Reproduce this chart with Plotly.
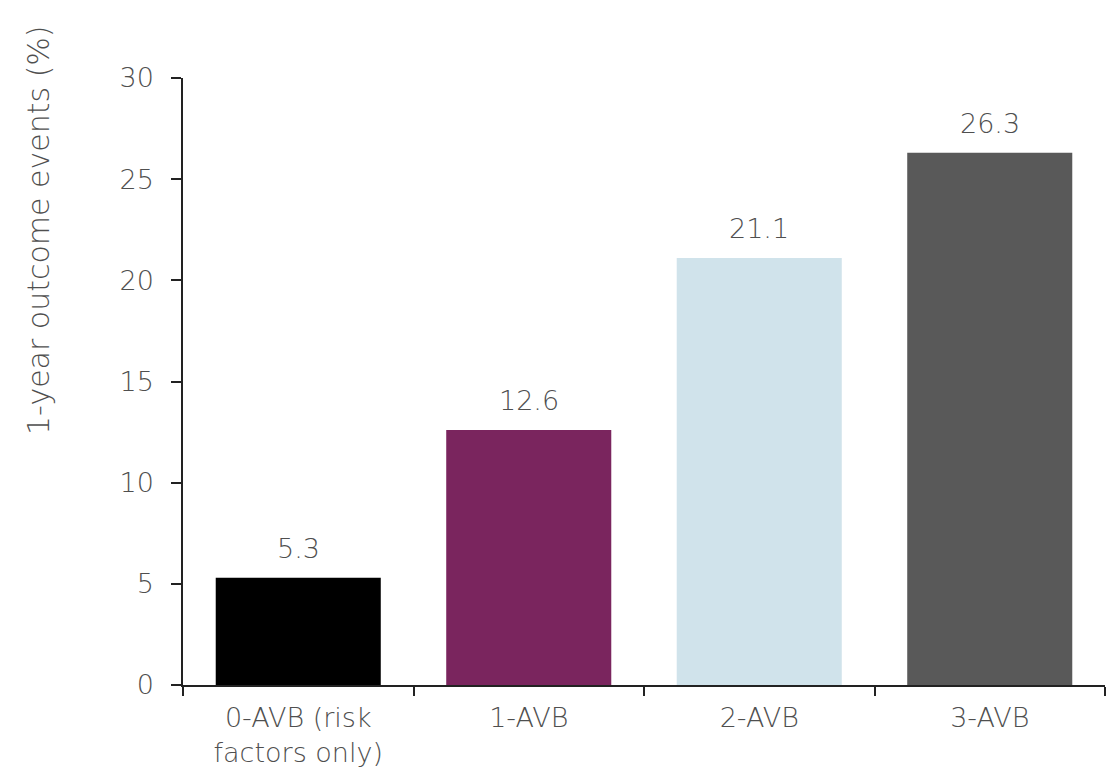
import plotly.graph_objects as go

categories = ["0-AVB (risk<br>factors only)", "1-AVB", "2-AVB", "3-AVB"]
event_rates = [5.3, 12.6, 21.1, 26.3]
bar_colors = ["#000000", "#7A255E", "#D0E3EB", "#595959"]
y_ticks = [0, 5, 10, 15, 20, 25, 30]

FONT = "DejaVu Sans"
GREY = "#4F4F4F"
AXIS = "#222222"
TXT = dict(family=FONT, size=27, color=GREY, weight=300)

W, H = 1120, 780
M_L, M_R, M_T, M_B = 183, 15, 78, 95
plot_w = W - M_L - M_R
plot_h = H - M_T - M_B

fig = go.Figure(
    go.Bar(
        x=categories,
        y=event_rates,
        marker=dict(color=bar_colors, line=dict(width=0)),
        hoverinfo="skip",
    )
)

# value labels sitting a little above each bar
for cat, val in zip(categories, event_rates):
    fig.add_annotation(
        x=cat, y=val, xref="x", yref="y",
        text=f"{val:.1f}", showarrow=False,
        yanchor="bottom", yshift=12,
        font=TXT,
    )

# y-axis title, placed in pixel terms relative to the plot area
fig.add_annotation(
    x=(38 - M_L) / plot_w, y=(H - M_B - 230) / plot_h,
    xref="paper", yref="paper",
    xanchor="center", yanchor="middle",
    text="1-year outcome events (%)", showarrow=False,
    textangle=-90,
    font=dict(family=FONT, size=30, color=GREY, weight=300),
)

fig.update_layout(
    width=W,
    height=H,
    margin=dict(l=M_L, r=M_R, t=M_T, b=M_B),
    paper_bgcolor="white",
    plot_bgcolor="white",
    bargap=0.284,
    showlegend=False,
    font=TXT,
)

fig.update_xaxes(
    type="category",
    tickson="boundaries",
    ticks="outside",
    ticklen=9,
    tickwidth=1.5,
    tickcolor=AXIS,
    showline=True,
    linecolor=AXIS,
    linewidth=1.5,
    showgrid=False,
    ticklabelstandoff=8,
    tickfont=TXT,
)

fig.update_yaxes(
    range=[0, 30],
    tickvals=y_ticks,
    ticks="outside",
    ticklen=10,
    tickwidth=1.5,
    tickcolor=AXIS,
    showline=True,
    linecolor=AXIS,
    linewidth=1.5,
    showgrid=False,
    zeroline=False,
    ticklabelstandoff=12,
    tickfont=TXT,
)

fig.write_html("out.html")
